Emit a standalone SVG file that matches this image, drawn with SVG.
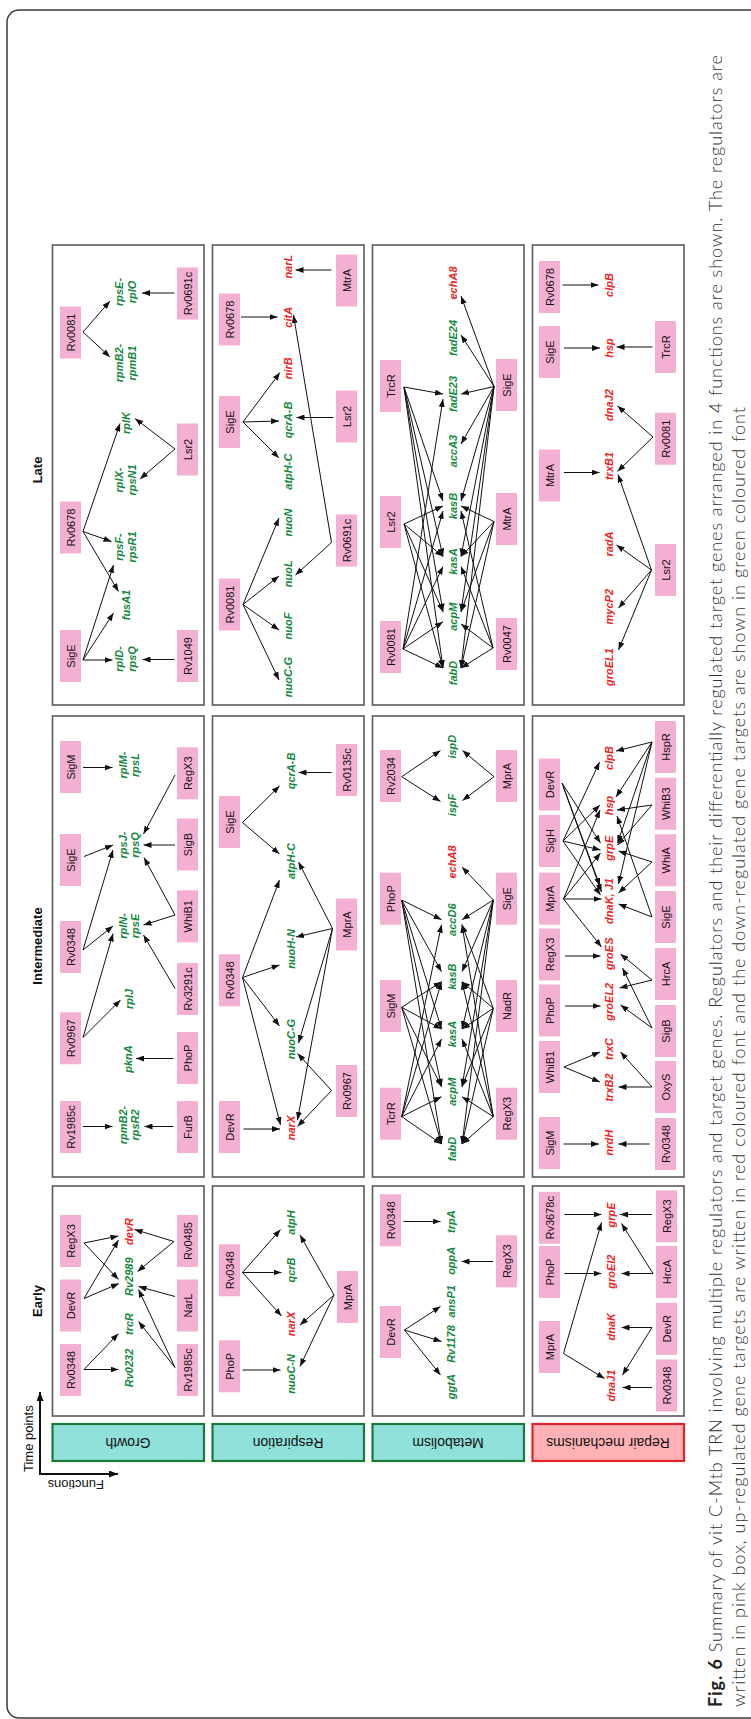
<svg xmlns="http://www.w3.org/2000/svg" width="751" height="1719" viewBox="0 0 751 1719">
<defs>
<style>
.frame{fill:none;stroke:#3a3a3a;stroke-width:1.5}
.panel{fill:#fff;stroke:#5a5a5a;stroke-width:1.6}
.box{fill:#f4b0d3}
.n{font:11px "Liberation Sans",Arial,sans-serif;fill:#111;text-anchor:middle}
.g,.r{font:italic bold 11px "Liberation Sans",Arial,sans-serif;text-anchor:middle}
.g{fill:#12883c}
.r{fill:#ee2222}
.time{font:bold 13px "Liberation Sans",Arial,sans-serif;text-anchor:middle;fill:#111}
.fn{stroke-width:2.2}
.fn-g{fill:#8fe1d9;stroke:#1b7a3a}
.fn-r{fill:#ffb1b6;stroke:#e3232a}
.fl{font:14px "Liberation Sans",Arial,sans-serif;text-anchor:middle;fill:#111}
.ax{font:13px "Liberation Sans",Arial,sans-serif;fill:#111}
.e path{fill:none;stroke:#111;stroke-width:1;marker-end:url(#ah)}
.axis path{fill:none;stroke:#111;stroke-width:2;marker-end:url(#ahx)}
.cap{font-family:Lato,"Open Sans",sans-serif;font-size:18px;font-weight:300;fill:#333}
.cap .b{font-weight:bold;fill:#222}
</style>
<marker id="ah" viewBox="0 0 8 6" refX="8" refY="3" markerWidth="8" markerHeight="6" markerUnits="userSpaceOnUse" orient="auto"><path d="M0,0L8,3L0,6z" fill="#111"/></marker>
<marker id="ahx" viewBox="0 0 9 7" refX="9" refY="3.5" markerWidth="9" markerHeight="7" markerUnits="userSpaceOnUse" orient="auto"><path d="M0,0L9,3.5L0,7z" fill="#111"/></marker>
</defs>

<!-- outer frame -->
<rect class="frame" x="7" y="10" width="770" height="1708" rx="12"/>

<!-- caption -->
<text class="cap" transform="translate(721.5 1707) rotate(-90)" textLength="1652" lengthAdjust="spacing"><tspan class="b">Fig. 6</tspan> Summary of vit C-Mtb TRN involving multiple regulators and target genes. Regulators and their differentially regulated target genes arranged in 4 functions are shown. The regulators are</text>
<text class="cap" transform="translate(744.5 1707) rotate(-90)" textLength="1300" lengthAdjust="spacing">written in pink box, up-regulated gene targets are written in red coloured font and the down-regulated gene targets are shown in green coloured font</text>

<!-- time point headings -->
<text class="time" transform="translate(37 470) rotate(-90)" y="4.5">Late</text>
<text class="time" transform="translate(37 946) rotate(-90)" y="4.5">Intermediate</text>
<text class="time" transform="translate(37 1301) rotate(-90)" y="4.5">Early</text>

<!-- panels -->
<g id="panels">
<rect class="panel" x="52.5" y="245" width="151.5" height="460"/>
<rect class="panel" x="212.5" y="245" width="151.5" height="460"/>
<rect class="panel" x="372.5" y="245" width="151.5" height="460"/>
<rect class="panel" x="532.5" y="245" width="151.5" height="460"/>
<rect class="panel" x="52.5" y="716" width="151.5" height="461"/>
<rect class="panel" x="212.5" y="716" width="151.5" height="461"/>
<rect class="panel" x="372.5" y="716" width="151.5" height="461"/>
<rect class="panel" x="532.5" y="716" width="151.5" height="461"/>
<rect class="panel" x="52.5" y="1186" width="151.5" height="230"/>
<rect class="panel" x="212.5" y="1186" width="151.5" height="230"/>
<rect class="panel" x="372.5" y="1186" width="151.5" height="230"/>
<rect class="panel" x="532.5" y="1186" width="151.5" height="230"/>
</g>

<!-- function labels -->
<g id="fn-growth"><rect class="fn fn-g" x="52.5" y="1424" width="151.5" height="37"/><text class="fl" transform="translate(128 1442.5) rotate(180)" y="5">Growth</text></g>
<g id="fn-respiration"><rect class="fn fn-g" x="212.5" y="1424" width="151.5" height="37"/><text class="fl" transform="translate(288 1442.5) rotate(180)" y="5">Respiration</text></g>
<g id="fn-metabolism"><rect class="fn fn-g" x="372.5" y="1424" width="151.5" height="37"/><text class="fl" transform="translate(448 1442.5) rotate(180)" y="5">Metabolism</text></g>
<g id="fn-repair"><rect class="fn fn-r" x="532.5" y="1424" width="151.5" height="37"/><text class="fl" transform="translate(608 1442.5) rotate(180)" y="5">Repair mechanisms</text></g>

<!-- axes -->
<g class="axis" id="axes">
<path d="M40 1475V1392"/>
<path d="M39 1474H118"/>
</g>
<text class="ax" transform="translate(32.5 1472) rotate(-90)">Time points</text>
<text class="ax" transform="translate(104 1479.5) rotate(180)">Functions</text>

<!-- ===== Late / Growth ===== -->
<g id="lg-Rv0081"><rect class="box" x="60" y="306.5" width="21" height="52"/><text class="n" transform="translate(70.5 332.5) rotate(-90)" y="4">Rv0081</text></g>
<g id="lg-Rv0678"><rect class="box" x="60" y="501.5" width="21" height="52"/><text class="n" transform="translate(70.5 527.5) rotate(-90)" y="4">Rv0678</text></g>
<g id="lg-SigE"><rect class="box" x="60" y="630" width="21" height="52"/><text class="n" transform="translate(70.5 656) rotate(-90)" y="4">SigE</text></g>
<g id="lg-Rv0691c"><rect class="box" x="177" y="267.5" width="21" height="52"/><text class="n" transform="translate(187.5 293.5) rotate(-90)" y="4">Rv0691c</text></g>
<g id="lg-Lsr2"><rect class="box" x="177" y="423.5" width="21" height="52"/><text class="n" transform="translate(187.5 449.5) rotate(-90)" y="4">Lsr2</text></g>
<g id="lg-Rv1049"><rect class="box" x="177" y="630" width="21" height="52"/><text class="n" transform="translate(187.5 656) rotate(-90)" y="4">Rv1049</text></g>
<g id="lg-rpsE-rplO"><text class="g" transform="translate(125.6 292) rotate(-90)"><tspan x="0" y="-2.2">rpsE-</tspan><tspan x="0" y="10.3">rplO</tspan></text></g>
<g id="lg-rpmB2-rpmB1"><text class="g" transform="translate(125.6 363) rotate(-90)"><tspan x="0" y="-2.2">rpmB2-</tspan><tspan x="0" y="10.3">rpmB1</tspan></text></g>
<g id="lg-rplK"><text class="g" transform="translate(125.6 423) rotate(-90)" y="4">rplK</text></g>
<g id="lg-rplX-rpsN1"><text class="g" transform="translate(125.6 480) rotate(-90)"><tspan x="0" y="-2.2">rplX-</tspan><tspan x="0" y="10.3">rpsN1</tspan></text></g>
<g id="lg-rpsF-rpsR1"><text class="g" transform="translate(125.6 547) rotate(-90)"><tspan x="0" y="-2.2">rpsF-</tspan><tspan x="0" y="10.3">rpsR1</tspan></text></g>
<g id="lg-fusA1"><text class="g" transform="translate(125.6 605) rotate(-90)" y="4">fusA1</text></g>
<g id="lg-rplD-rpsQ"><text class="g" transform="translate(125.6 659) rotate(-90)"><tspan x="0" y="-2.2">rplD-</tspan><tspan x="0" y="10.3">rpsQ</tspan></text></g>

<!-- ===== Late / Respiration ===== -->
<g id="lr-Rv0678"><rect class="box" x="219" y="293.5" width="21" height="52"/><text class="n" transform="translate(229.5 319.5) rotate(-90)" y="4">Rv0678</text></g>
<g id="lr-SigE"><rect class="box" x="219" y="396" width="21" height="52"/><text class="n" transform="translate(229.5 422) rotate(-90)" y="4">SigE</text></g>
<g id="lr-Rv0081"><rect class="box" x="219" y="578.5" width="21" height="52"/><text class="n" transform="translate(229.5 604.5) rotate(-90)" y="4">Rv0081</text></g>
<g id="lr-MtrA"><rect class="box" x="336" y="254.5" width="21" height="52"/><text class="n" transform="translate(346.5 280.5) rotate(-90)" y="4">MtrA</text></g>
<g id="lr-Lsr2"><rect class="box" x="336" y="390.5" width="21" height="52"/><text class="n" transform="translate(346.5 416.5) rotate(-90)" y="4">Lsr2</text></g>
<g id="lr-Rv0691c"><rect class="box" x="336" y="514.5" width="21" height="52"/><text class="n" transform="translate(346.5 540.5) rotate(-90)" y="4">Rv0691c</text></g>
<g id="lr-narL"><text class="r" transform="translate(287.5 266.7) rotate(-90)" y="4">narL</text></g>
<g id="lr-citA"><text class="r" transform="translate(287.5 317.3) rotate(-90)" y="4">citA</text></g>
<g id="lr-nirB"><text class="r" transform="translate(287.5 368.3) rotate(-90)" y="4">nirB</text></g>
<g id="lr-qcrA-B"><text class="g" transform="translate(287.5 420) rotate(-90)" y="4">qcrA-B</text></g>
<g id="lr-atpH-C"><text class="g" transform="translate(287.5 471.7) rotate(-90)" y="4">atpH-C</text></g>
<g id="lr-nuoN"><text class="g" transform="translate(287.5 522.5) rotate(-90)" y="4">nuoN</text></g>
<g id="lr-nuoL"><text class="g" transform="translate(287.5 573.7) rotate(-90)" y="4">nuoL</text></g>
<g id="lr-nuoF"><text class="g" transform="translate(287.5 626) rotate(-90)" y="4">nuoF</text></g>
<g id="lr-nuoC-G"><text class="g" transform="translate(287.5 677) rotate(-90)" y="4">nuoC-G</text></g>

<!-- ===== Late / Metabolism ===== -->
<g id="lm-TrcR"><rect class="box" x="380" y="360" width="21" height="52"/><text class="n" transform="translate(390.5 386) rotate(-90)" y="4">TrcR</text></g>
<g id="lm-Lsr2"><rect class="box" x="380" y="496" width="21" height="52"/><text class="n" transform="translate(390.5 522) rotate(-90)" y="4">Lsr2</text></g>
<g id="lm-Rv0081"><rect class="box" x="380" y="621" width="21" height="52"/><text class="n" transform="translate(390.5 647) rotate(-90)" y="4">Rv0081</text></g>
<g id="lm-SigE"><rect class="box" x="496" y="359" width="21" height="52"/><text class="n" transform="translate(506.5 385) rotate(-90)" y="4">SigE</text></g>
<g id="lm-MtrA"><rect class="box" x="496" y="493" width="21" height="52"/><text class="n" transform="translate(506.5 519) rotate(-90)" y="4">MtrA</text></g>
<g id="lm-Rv0047"><rect class="box" x="496" y="618" width="21" height="52"/><text class="n" transform="translate(506.5 644) rotate(-90)" y="4">Rv0047</text></g>
<g id="lm-echA8"><text class="r" transform="translate(452.5 283) rotate(-90)" y="4">echA8</text></g>
<g id="lm-fadE24"><text class="g" transform="translate(452.5 338) rotate(-90)" y="4">fadE24</text></g>
<g id="lm-fadE23"><text class="g" transform="translate(452.5 394) rotate(-90)" y="4">fadE23</text></g>
<g id="lm-accA3"><text class="g" transform="translate(452.5 451) rotate(-90)" y="4">accA3</text></g>
<g id="lm-kasB"><text class="g" transform="translate(452.5 506) rotate(-90)" y="4">kasB</text></g>
<g id="lm-kasA"><text class="g" transform="translate(452.5 561.5) rotate(-90)" y="4">kasA</text></g>
<g id="lm-acpM"><text class="g" transform="translate(452.5 616.7) rotate(-90)" y="4">acpM</text></g>
<g id="lm-fabD"><text class="g" transform="translate(452.5 673) rotate(-90)" y="4">fabD</text></g>

<!-- ===== Late / Repair ===== -->
<g id="lp-Rv0678"><rect class="box" x="539" y="261" width="21" height="52"/><text class="n" transform="translate(549.5 287) rotate(-90)" y="4">Rv0678</text></g>
<g id="lp-SigE"><rect class="box" x="539" y="326" width="21" height="52"/><text class="n" transform="translate(549.5 352) rotate(-90)" y="4">SigE</text></g>
<g id="lp-MtrA"><rect class="box" x="539" y="449.5" width="21" height="52"/><text class="n" transform="translate(549.5 475.5) rotate(-90)" y="4">MtrA</text></g>
<g id="lp-TrcR"><rect class="box" x="655" y="321" width="21" height="52"/><text class="n" transform="translate(665.5 347) rotate(-90)" y="4">TrcR</text></g>
<g id="lp-Rv0081"><rect class="box" x="655" y="412.7" width="21" height="52"/><text class="n" transform="translate(665.5 438.7) rotate(-90)" y="4">Rv0081</text></g>
<g id="lp-Lsr2"><rect class="box" x="655" y="544" width="21" height="52"/><text class="n" transform="translate(665.5 570) rotate(-90)" y="4">Lsr2</text></g>
<g id="lp-clpB"><text class="r" transform="translate(609 285) rotate(-90)" y="4">clpB</text></g>
<g id="lp-hsp"><text class="r" transform="translate(609 348) rotate(-90)" y="4">hsp</text></g>
<g id="lp-dnaJ2"><text class="r" transform="translate(609 405) rotate(-90)" y="4">dnaJ2</text></g>
<g id="lp-trxB1"><text class="r" transform="translate(609 466) rotate(-90)" y="4">trxB1</text></g>
<g id="lp-radA"><text class="r" transform="translate(609 544) rotate(-90)" y="4">radA</text></g>
<g id="lp-mycP2"><text class="r" transform="translate(609 606.7) rotate(-90)" y="4">mycP2</text></g>
<g id="lp-groEL1"><text class="r" transform="translate(609 667) rotate(-90)" y="4">groEL1</text></g>

<!-- ===== Intermediate / Growth ===== -->
<g id="ig-SigM"><rect class="box" x="60" y="741" width="21" height="52"/><text class="n" transform="translate(70.5 767) rotate(-90)" y="4">SigM</text></g>
<g id="ig-SigE"><rect class="box" x="60" y="834" width="21" height="52"/><text class="n" transform="translate(70.5 860) rotate(-90)" y="4">SigE</text></g>
<g id="ig-Rv0348"><rect class="box" x="60" y="921" width="21" height="52"/><text class="n" transform="translate(70.5 947) rotate(-90)" y="4">Rv0348</text></g>
<g id="ig-Rv0967"><rect class="box" x="60" y="1012.3" width="21" height="52"/><text class="n" transform="translate(70.5 1038.3) rotate(-90)" y="4">Rv0967</text></g>
<g id="ig-Rv1985c"><rect class="box" x="60" y="1101" width="21" height="52"/><text class="n" transform="translate(70.5 1127) rotate(-90)" y="4">Rv1985c</text></g>
<g id="ig-RegX3"><rect class="box" x="177" y="747.3" width="21" height="52"/><text class="n" transform="translate(187.5 773.3) rotate(-90)" y="4">RegX3</text></g>
<g id="ig-SigB"><rect class="box" x="177" y="818.5" width="21" height="52"/><text class="n" transform="translate(187.5 844.5) rotate(-90)" y="4">SigB</text></g>
<g id="ig-WhiB1"><rect class="box" x="177" y="890.3" width="21" height="52"/><text class="n" transform="translate(187.5 916.3) rotate(-90)" y="4">WhiB1</text></g>
<g id="ig-Rv3291c"><rect class="box" x="177" y="963" width="21" height="52"/><text class="n" transform="translate(187.5 989) rotate(-90)" y="4">Rv3291c</text></g>
<g id="ig-PhoP"><rect class="box" x="177" y="1032" width="21" height="52"/><text class="n" transform="translate(187.5 1058) rotate(-90)" y="4">PhoP</text></g>
<g id="ig-FurB"><rect class="box" x="177" y="1101" width="21" height="52"/><text class="n" transform="translate(187.5 1127) rotate(-90)" y="4">FurB</text></g>
<g id="ig-rplM-rpsL"><text class="g" transform="translate(128.7 765) rotate(-90)"><tspan x="0" y="-2.2">rplM-</tspan><tspan x="0" y="10.3">rpsL</tspan></text></g>
<g id="ig-rpsJ-rpsQ"><text class="g" transform="translate(128.7 845) rotate(-90)"><tspan x="0" y="-2.2">rpsJ-</tspan><tspan x="0" y="10.3">rpsQ</tspan></text></g>
<g id="ig-rplN-rpsE"><text class="g" transform="translate(128.7 926) rotate(-90)"><tspan x="0" y="-2.2">rplN-</tspan><tspan x="0" y="10.3">rpsE</tspan></text></g>
<g id="ig-rplJ"><text class="g" transform="translate(129 999) rotate(-90)" y="4">rplJ</text></g>
<g id="ig-pknA"><text class="g" transform="translate(128 1059) rotate(-90)" y="4">pknA</text></g>
<g id="ig-rpmB2-rpsR2"><text class="g" transform="translate(128.7 1125) rotate(-90)"><tspan x="0" y="-2.2">rpmB2-</tspan><tspan x="0" y="10.3">rpsR2</tspan></text></g>

<!-- ===== Intermediate / Respiration ===== -->
<g id="ir-SigE"><rect class="box" x="219" y="796" width="21" height="52"/><text class="n" transform="translate(229.5 822) rotate(-90)" y="4">SigE</text></g>
<g id="ir-Rv0348"><rect class="box" x="219" y="954.3" width="21" height="52"/><text class="n" transform="translate(229.5 980.3) rotate(-90)" y="4">Rv0348</text></g>
<g id="ir-DevR"><rect class="box" x="219" y="1101" width="21" height="52"/><text class="n" transform="translate(229.5 1127) rotate(-90)" y="4">DevR</text></g>
<g id="ir-Rv0135c"><rect class="box" x="336" y="744" width="21" height="52"/><text class="n" transform="translate(346.5 770) rotate(-90)" y="4">Rv0135c</text></g>
<g id="ir-MprA"><rect class="box" x="336" y="898.5" width="21" height="52"/><text class="n" transform="translate(346.5 924.5) rotate(-90)" y="4">MprA</text></g>
<g id="ir-Rv0967"><rect class="box" x="336" y="1065" width="21" height="52"/><text class="n" transform="translate(346.5 1091) rotate(-90)" y="4">Rv0967</text></g>
<g id="ir-qcrA-B"><text class="g" transform="translate(290.5 771) rotate(-90)" y="4">qcrA-B</text></g>
<g id="ir-atpH-C"><text class="g" transform="translate(290.5 861) rotate(-90)" y="4">atpH-C</text></g>
<g id="ir-nuoH-N"><text class="g" transform="translate(290.5 949) rotate(-90)" y="4">nuoH-N</text></g>
<g id="ir-nuoC-G"><text class="g" transform="translate(290.5 1039) rotate(-90)" y="4">nuoC-G</text></g>
<g id="ir-narX"><text class="r" transform="translate(290.5 1128) rotate(-90)" y="4">narX</text></g>

<!-- ===== Intermediate / Metabolism ===== -->
<g id="im-Rv2034"><rect class="box" x="380" y="750" width="21" height="52"/><text class="n" transform="translate(390.5 776) rotate(-90)" y="4">Rv2034</text></g>
<g id="im-PhoP"><rect class="box" x="380" y="872.7" width="21" height="52"/><text class="n" transform="translate(390.5 898.7) rotate(-90)" y="4">PhoP</text></g>
<g id="im-SigM"><rect class="box" x="380" y="980" width="21" height="52"/><text class="n" transform="translate(390.5 1006) rotate(-90)" y="4">SigM</text></g>
<g id="im-TcrR"><rect class="box" x="380" y="1087.7" width="21" height="52"/><text class="n" transform="translate(390.5 1113.7) rotate(-90)" y="4">TcrR</text></g>
<g id="im-MprA"><rect class="box" x="496" y="750" width="21" height="52"/><text class="n" transform="translate(506.5 776) rotate(-90)" y="4">MprA</text></g>
<g id="im-SigE"><rect class="box" x="496" y="872.7" width="21" height="52"/><text class="n" transform="translate(506.5 898.7) rotate(-90)" y="4">SigE</text></g>
<g id="im-NadR"><rect class="box" x="496" y="980" width="21" height="52"/><text class="n" transform="translate(506.5 1006) rotate(-90)" y="4">NadR</text></g>
<g id="im-RegX3"><rect class="box" x="496" y="1087.7" width="21" height="52"/><text class="n" transform="translate(506.5 1113.7) rotate(-90)" y="4">RegX3</text></g>
<g id="im-ispD"><text class="g" transform="translate(451.5 746.7) rotate(-90)" y="4">ispD</text></g>
<g id="im-ispF"><text class="g" transform="translate(451.5 805) rotate(-90)" y="4">ispF</text></g>
<g id="im-echA8"><text class="r" transform="translate(451.5 862) rotate(-90)" y="4">echA8</text></g>
<g id="im-accD6"><text class="g" transform="translate(451.5 919.7) rotate(-90)" y="4">accD6</text></g>
<g id="im-kasB"><text class="g" transform="translate(451.5 976.7) rotate(-90)" y="4">kasB</text></g>
<g id="im-kasA"><text class="g" transform="translate(451.5 1034) rotate(-90)" y="4">kasA</text></g>
<g id="im-acpM"><text class="g" transform="translate(451.5 1091.7) rotate(-90)" y="4">acpM</text></g>
<g id="im-fabD"><text class="g" transform="translate(451.5 1149) rotate(-90)" y="4">fabD</text></g>

<!-- ===== Intermediate / Repair ===== -->
<g id="ip-DevR"><rect class="box" x="539" y="758.5" width="21" height="52"/><text class="n" transform="translate(549.5 784.5) rotate(-90)" y="4">DevR</text></g>
<g id="ip-SigH"><rect class="box" x="539" y="815" width="21" height="52"/><text class="n" transform="translate(549.5 841) rotate(-90)" y="4">SigH</text></g>
<g id="ip-MprA"><rect class="box" x="539" y="872.7" width="21" height="52"/><text class="n" transform="translate(549.5 898.7) rotate(-90)" y="4">MprA</text></g>
<g id="ip-RegX3"><rect class="box" x="539" y="928.5" width="21" height="52"/><text class="n" transform="translate(549.5 954.5) rotate(-90)" y="4">RegX3</text></g>
<g id="ip-PhoP"><rect class="box" x="539" y="984.5" width="21" height="52"/><text class="n" transform="translate(549.5 1010.5) rotate(-90)" y="4">PhoP</text></g>
<g id="ip-WhiB1"><rect class="box" x="539" y="1041" width="21" height="52"/><text class="n" transform="translate(549.5 1067) rotate(-90)" y="4">WhiB1</text></g>
<g id="ip-SigM"><rect class="box" x="539" y="1117" width="21" height="52"/><text class="n" transform="translate(549.5 1143) rotate(-90)" y="4">SigM</text></g>
<g id="ip-HspR"><rect class="box" x="655" y="721" width="21" height="52"/><text class="n" transform="translate(665.5 747) rotate(-90)" y="4">HspR</text></g>
<g id="ip-WhiB3"><rect class="box" x="655" y="777.7" width="21" height="52"/><text class="n" transform="translate(665.5 803.7) rotate(-90)" y="4">WhiB3</text></g>
<g id="ip-WhiA"><rect class="box" x="655" y="834.3" width="21" height="52"/><text class="n" transform="translate(665.5 860.3) rotate(-90)" y="4">WhiA</text></g>
<g id="ip-SigE"><rect class="box" x="655" y="891" width="21" height="52"/><text class="n" transform="translate(665.5 917) rotate(-90)" y="4">SigE</text></g>
<g id="ip-HrcA"><rect class="box" x="655" y="948" width="21" height="52"/><text class="n" transform="translate(665.5 974) rotate(-90)" y="4">HrcA</text></g>
<g id="ip-SigB"><rect class="box" x="655" y="1005" width="21" height="52"/><text class="n" transform="translate(665.5 1031) rotate(-90)" y="4">SigB</text></g>
<g id="ip-OxyS"><rect class="box" x="655" y="1061" width="21" height="52"/><text class="n" transform="translate(665.5 1087) rotate(-90)" y="4">OxyS</text></g>
<g id="ip-Rv0348"><rect class="box" x="655" y="1118" width="21" height="52"/><text class="n" transform="translate(665.5 1144) rotate(-90)" y="4">Rv0348</text></g>
<g id="ip-clpB"><text class="r" transform="translate(609 758) rotate(-90)" y="4">clpB</text></g>
<g id="ip-hsp"><text class="r" transform="translate(609 805.5) rotate(-90)" y="4">hsp</text></g>
<g id="ip-grpE"><text class="r" transform="translate(609 848.3) rotate(-90)" y="4">grpE</text></g>
<g id="ip-dnaK-J1"><text class="r" transform="translate(609 901) rotate(-90)" y="4">dnaK, J1</text></g>
<g id="ip-groES"><text class="r" transform="translate(609 953.7) rotate(-90)" y="4">groES</text></g>
<g id="ip-groEL2"><text class="r" transform="translate(609 1001.7) rotate(-90)" y="4">groEL2</text></g>
<g id="ip-trxC"><text class="r" transform="translate(609 1049) rotate(-90)" y="4">trxC</text></g>
<g id="ip-trxB2"><text class="r" transform="translate(609 1087.5) rotate(-90)" y="4">trxB2</text></g>
<g id="ip-nrdH"><text class="r" transform="translate(609 1142.7) rotate(-90)" y="4">nrdH</text></g>

<!-- ===== Early / Growth ===== -->
<g id="eg-RegX3"><rect class="box" x="60" y="1215" width="21" height="52"/><text class="n" transform="translate(70.5 1241) rotate(-90)" y="4">RegX3</text></g>
<g id="eg-DevR"><rect class="box" x="60" y="1279.5" width="21" height="52"/><text class="n" transform="translate(70.5 1305.5) rotate(-90)" y="4">DevR</text></g>
<g id="eg-Rv0348"><rect class="box" x="60" y="1344" width="21" height="52"/><text class="n" transform="translate(70.5 1370) rotate(-90)" y="4">Rv0348</text></g>
<g id="eg-Rv0485"><rect class="box" x="177" y="1215" width="21" height="52"/><text class="n" transform="translate(187.5 1241) rotate(-90)" y="4">Rv0485</text></g>
<g id="eg-NarL"><rect class="box" x="177" y="1279.5" width="21" height="52"/><text class="n" transform="translate(187.5 1305.5) rotate(-90)" y="4">NarL</text></g>
<g id="eg-Rv1985c"><rect class="box" x="177" y="1344" width="21" height="52"/><text class="n" transform="translate(187.5 1370) rotate(-90)" y="4">Rv1985c</text></g>
<g id="eg-devR"><text class="r" transform="translate(129 1231.5) rotate(-90)" y="4">devR</text></g>
<g id="eg-Rv2989"><text class="g" transform="translate(129 1276.7) rotate(-90)" y="4">Rv2989</text></g>
<g id="eg-trcR"><text class="g" transform="translate(129 1324) rotate(-90)" y="4">trcR</text></g>
<g id="eg-Rv0232"><text class="g" transform="translate(129 1368) rotate(-90)" y="4">Rv0232</text></g>

<!-- ===== Early / Respiration ===== -->
<g id="er-Rv0348"><rect class="box" x="219" y="1244.3" width="21" height="52"/><text class="n" transform="translate(229.5 1270.3) rotate(-90)" y="4">Rv0348</text></g>
<g id="er-PhoP"><rect class="box" x="219" y="1340.3" width="21" height="52"/><text class="n" transform="translate(229.5 1366.3) rotate(-90)" y="4">PhoP</text></g>
<g id="er-MprA"><rect class="box" x="337" y="1271" width="21" height="52"/><text class="n" transform="translate(347.5 1297) rotate(-90)" y="4">MprA</text></g>
<g id="er-atpH"><text class="g" transform="translate(291 1222.5) rotate(-90)" y="4">atpH</text></g>
<g id="er-qcrB"><text class="g" transform="translate(291 1270) rotate(-90)" y="4">qcrB</text></g>
<g id="er-narX"><text class="r" transform="translate(291 1324) rotate(-90)" y="4">narX</text></g>
<g id="er-nuoC-N"><text class="g" transform="translate(291 1374) rotate(-90)" y="4">nuoC-N</text></g>

<!-- ===== Early / Metabolism ===== -->
<g id="em-Rv0348"><rect class="box" x="380" y="1194.3" width="21" height="52"/><text class="n" transform="translate(390.5 1220.3) rotate(-90)" y="4">Rv0348</text></g>
<g id="em-DevR"><rect class="box" x="380" y="1306" width="21" height="52"/><text class="n" transform="translate(390.5 1332) rotate(-90)" y="4">DevR</text></g>
<g id="em-RegX3"><rect class="box" x="496" y="1235.3" width="21" height="52"/><text class="n" transform="translate(506.5 1261.3) rotate(-90)" y="4">RegX3</text></g>
<g id="em-trpA"><text class="g" transform="translate(451 1221.7) rotate(-90)" y="4">trpA</text></g>
<g id="em-oppA"><text class="g" transform="translate(451 1260.8) rotate(-90)" y="4">oppA</text></g>
<g id="em-ansP1"><text class="g" transform="translate(451 1301.3) rotate(-90)" y="4">ansP1</text></g>
<g id="em-Rv1178"><text class="g" transform="translate(451 1344) rotate(-90)" y="4">Rv1178</text></g>
<g id="em-ggtA"><text class="g" transform="translate(451 1386.7) rotate(-90)" y="4">ggtA</text></g>

<!-- ===== Early / Repair ===== -->
<g id="ep-Rv3678c"><rect class="box" x="539" y="1191.8" width="21" height="52"/><text class="n" transform="translate(549.5 1217.8) rotate(-90)" y="4">Rv3678c</text></g>
<g id="ep-PhoP"><rect class="box" x="539" y="1246" width="21" height="52"/><text class="n" transform="translate(549.5 1272) rotate(-90)" y="4">PhoP</text></g>
<g id="ep-MprA"><rect class="box" x="539" y="1321" width="21" height="52"/><text class="n" transform="translate(549.5 1347) rotate(-90)" y="4">MprA</text></g>
<g id="ep-RegX3"><rect class="box" x="656" y="1190.3" width="21" height="52"/><text class="n" transform="translate(666.5 1216.3) rotate(-90)" y="4">RegX3</text></g>
<g id="ep-HrcA"><rect class="box" x="656" y="1246" width="21" height="52"/><text class="n" transform="translate(666.5 1272) rotate(-90)" y="4">HrcA</text></g>
<g id="ep-DevR"><rect class="box" x="656" y="1302.8" width="21" height="52"/><text class="n" transform="translate(666.5 1328.8) rotate(-90)" y="4">DevR</text></g>
<g id="ep-Rv0348"><rect class="box" x="656" y="1359.5" width="21" height="52"/><text class="n" transform="translate(666.5 1385.5) rotate(-90)" y="4">Rv0348</text></g>
<g id="ep-grpE"><text class="r" transform="translate(611 1215) rotate(-90)" y="4">grpE</text></g>
<g id="ep-groEl2"><text class="r" transform="translate(611 1271.7) rotate(-90)" y="4">groEl2</text></g>
<g id="ep-dnaK"><text class="r" transform="translate(611 1326.7) rotate(-90)" y="4">dnaK</text></g>
<g id="ep-dnaJ1"><text class="r" transform="translate(611 1385.5) rotate(-90)" y="4">dnaJ1</text></g>

<!-- ===== regulatory connectors ===== -->
<g class="e" id="connectors">
<!-- late growth -->
<path d="M83 332L110 301"/>
<path d="M83 332L110 357"/>
<path d="M174.5 293H142"/>
<path d="M83 531.5L120 423.5"/>
<path d="M83 531.5L111.5 541.5"/>
<path d="M83 531.5L118.5 591.5"/>
<path d="M175 449L135 418.5"/>
<path d="M175 449L140 479"/>
<path d="M83 660H112.5"/>
<path d="M83 660L113.5 613"/>
<path d="M83 660L113.5 565"/>
<path d="M174.5 659.5H142.5"/>
<!-- late respiration -->
<path d="M331.5 270H295.5"/>
<path d="M241 317H277.5"/>
<path d="M243 422L280 372.5"/>
<path d="M243 422L279 421"/>
<path d="M243 422L279 458"/>
<path d="M333.5 417.5H296.5"/>
<path d="M331.5 542.5L293.5 315"/>
<path d="M331.5 542.5L295.5 575"/>
<path d="M243 604.5L279 518"/>
<path d="M243 604.5L279 576"/>
<path d="M243 604.5L279 630"/>
<path d="M243 604.5L279 680"/>
<!-- late metabolism -->
<path d="M404 387L443 394"/>
<path d="M404 387L443 501"/>
<path d="M404 387L443 556.5"/>
<path d="M404 387L443 611.7"/>
<path d="M404 387L443 668"/>
<path d="M404 524L443 506"/>
<path d="M404 524L443 556.5"/>
<path d="M404 524L443 611.7"/>
<path d="M404 524L443 668"/>
<path d="M403 649L443 399"/>
<path d="M403 649L443 511"/>
<path d="M403 649L443 566.5"/>
<path d="M403 649L443 621.7"/>
<path d="M403 649L443 668"/>
<path d="M494 386.5L461 296"/>
<path d="M494 386.5L461 335"/>
<path d="M494 386.5L461 394"/>
<path d="M494 386.5L461 444"/>
<path d="M494 386.5L461 501"/>
<path d="M494 386.5L461 556.5"/>
<path d="M494 386.5L461 611.7"/>
<path d="M494 386.5L461 668"/>
<path d="M494 521.5L461 506"/>
<path d="M494 521.5L461 556.5"/>
<path d="M494 521.5L461 611.7"/>
<path d="M494 521.5L461 668"/>
<path d="M493 648L461 511"/>
<path d="M493 648L461 566.5"/>
<path d="M493 648L461 624"/>
<path d="M493 648L461 668"/>
<!-- late repair -->
<path d="M562.5 285H598.5"/>
<path d="M564 348H600"/>
<path d="M652.5 347H616.5"/>
<path d="M653 437L617.5 406"/>
<path d="M653 437L617.5 471.5"/>
<path d="M564 472.5H599.5"/>
<path d="M651.5 570L618 474.5"/>
<path d="M651.5 570L616.5 545"/>
<path d="M651.5 570L618.5 608"/>
<path d="M651.5 570L618.5 650"/>
<!-- intermediate growth -->
<path d="M83 767.5H112.5"/>
<path d="M84 856.5L113 845"/>
<path d="M83 950L113 850"/>
<path d="M83 950L113 926"/>
<path d="M83 1037.5L113 933.5"/>
<path d="M83 1037.5L120.5 1000"/>
<path d="M83 1126.5H112.5"/>
<path d="M175 775L143.5 834"/>
<path d="M175 845H143.5"/>
<path d="M175 915L144 857.5"/>
<path d="M175 915L143.5 925"/>
<path d="M175 988.5L143.5 935"/>
<path d="M173.5 1058.5H136"/>
<path d="M173.5 1126.5H144.5"/>
<!-- intermediate respiration -->
<path d="M242.5 822.5L279.5 786"/>
<path d="M242.5 822.5L279.5 854"/>
<path d="M331.5 772.5H298.5"/>
<path d="M242.5 977.5L279.5 880"/>
<path d="M242.5 977.5L279.5 965"/>
<path d="M242.5 977.5L279.5 1026"/>
<path d="M242.5 977.5L280.5 1125"/>
<path d="M332.5 928.5L298.5 862"/>
<path d="M332.5 928.5L296 937"/>
<path d="M332.5 928.5L298.5 1043"/>
<path d="M332.5 928.5L297.5 1120"/>
<path d="M331.5 1090.5L297.5 1053.5"/>
<path d="M331.5 1090.5L297.5 1126.5"/>
<path d="M243.5 1129H280"/>
<!-- intermediate metabolism -->
<path d="M401.7 776.7L440.5 750.5"/>
<path d="M401.7 776.7L440.5 801.5"/>
<path d="M494 776.7L462.5 750.5"/>
<path d="M494 776.7L462.5 800.5"/>
<path d="M401.7 900L441.5 919.7"/>
<path d="M401.7 900L441.5 971.7"/>
<path d="M401.7 900L441.5 1029"/>
<path d="M401.7 900L441.5 1086.7"/>
<path d="M401.7 900L441.5 1144"/>
<path d="M401.7 1007.3L441.5 981.7"/>
<path d="M401.7 1007.3L441.5 1029"/>
<path d="M401.7 1007.3L441.5 1086.7"/>
<path d="M401.7 1007.3L441.5 1144"/>
<path d="M401.7 1116.7L441.5 924.7"/>
<path d="M401.7 1116.7L441.5 981.7"/>
<path d="M401.7 1116.7L441.5 1039"/>
<path d="M401.7 1116.7L441.5 1096.7"/>
<path d="M401.7 1116.7L441.5 1144"/>
<path d="M493.3 900L462 867"/>
<path d="M493.3 900L462 919.7"/>
<path d="M493.3 900L462 971.7"/>
<path d="M493.3 900L462 1029"/>
<path d="M493.3 900L462 1086.7"/>
<path d="M493.3 900L462 1144"/>
<path d="M493.3 1008.3L462 924.7"/>
<path d="M493.3 1008.3L462 981.7"/>
<path d="M493.3 1008.3L462 1029"/>
<path d="M493.3 1008.3L462 1086.7"/>
<path d="M493.3 1008.3L462 1144"/>
<path d="M493.3 1116.7L462 924.7"/>
<path d="M493.3 1116.7L462 981.7"/>
<path d="M493.3 1116.7L462 1039"/>
<path d="M493.3 1116.7L462 1096.7"/>
<path d="M493.3 1116.7L462 1144"/>
<!-- intermediate repair -->
<path d="M562 783L600.5 843"/>
<path d="M562 783L600 886"/>
<path d="M563 786L601.5 892"/>
<path d="M563 841L599.5 762"/>
<path d="M563 841L600 805"/>
<path d="M563 841L600.5 850"/>
<path d="M563 841L600.5 895"/>
<path d="M563.5 899L600 810"/>
<path d="M563.5 899L600.5 853"/>
<path d="M563.5 899H601.5"/>
<path d="M563.5 899L601.5 947"/>
<path d="M565 956H600.5"/>
<path d="M565 1006H600.5"/>
<path d="M564 1067L600 1052"/>
<path d="M564 1067L600 1082"/>
<path d="M563.5 1144H599"/>
<path d="M652 742L616 751"/>
<path d="M652 742L616 797"/>
<path d="M652 742L617.5 843"/>
<path d="M652 742L618.5 884"/>
<path d="M652 805L617 810"/>
<path d="M652 805L617.5 845"/>
<path d="M652 862L618.5 851"/>
<path d="M652 862L618.5 893"/>
<path d="M652 917L618.5 904"/>
<path d="M652 917L617 816"/>
<path d="M652 980L620.5 954"/>
<path d="M652 980L619.5 988"/>
<path d="M652 1028L622.5 968"/>
<path d="M652 1028L620.5 1005"/>
<path d="M652 1087L620.5 1052"/>
<path d="M652 1087H618.5"/>
<path d="M649.5 1144H618.5"/>
<!-- early growth -->
<path d="M84 1243L118.5 1236"/>
<path d="M84 1243L118.5 1279.5"/>
<path d="M84 1298.5L118.5 1240"/>
<path d="M84 1298.5L119 1283.5"/>
<path d="M84 1369.5L118.5 1333.5"/>
<path d="M84 1369.5H118.5"/>
<path d="M174 1241.5L134.5 1229.5"/>
<path d="M174 1241.5L137.5 1271.5"/>
<path d="M175 1296.5L138.5 1286.5"/>
<path d="M175 1367.5L138.5 1289.5"/>
<path d="M175 1367.5L138.5 1321.5"/>
<!-- early respiration -->
<path d="M242.5 1272.5L280.5 1229.5"/>
<path d="M242.5 1272.5H281.5"/>
<path d="M242.5 1272.5L281.5 1316"/>
<path d="M242.5 1370H280.5"/>
<path d="M334 1295L300 1235"/>
<path d="M334 1295L300 1325"/>
<path d="M334 1295L300 1366.5"/>
<!-- early metabolism -->
<path d="M403.5 1221.5H440.5"/>
<path d="M493 1261.5H461.5"/>
<path d="M404.5 1330L440.5 1306.5"/>
<path d="M404.5 1330L441.5 1341.5"/>
<path d="M404.5 1330L440.5 1375"/>
<!-- early repair -->
<path d="M564.5 1214.5H601.5"/>
<path d="M564.5 1273.5H601.5"/>
<path d="M563.5 1353.5L601.5 1222.5"/>
<path d="M563.5 1353.5L604.5 1378.5"/>
<path d="M652 1214.5H620"/>
<path d="M653 1273.5H621.5"/>
<path d="M653 1273.5L621.5 1223.5"/>
<path d="M652 1327.5H621.5"/>
<path d="M652 1327.5L622.5 1375"/>
<path d="M652 1387.5H622.5"/>
</g>
</svg>
